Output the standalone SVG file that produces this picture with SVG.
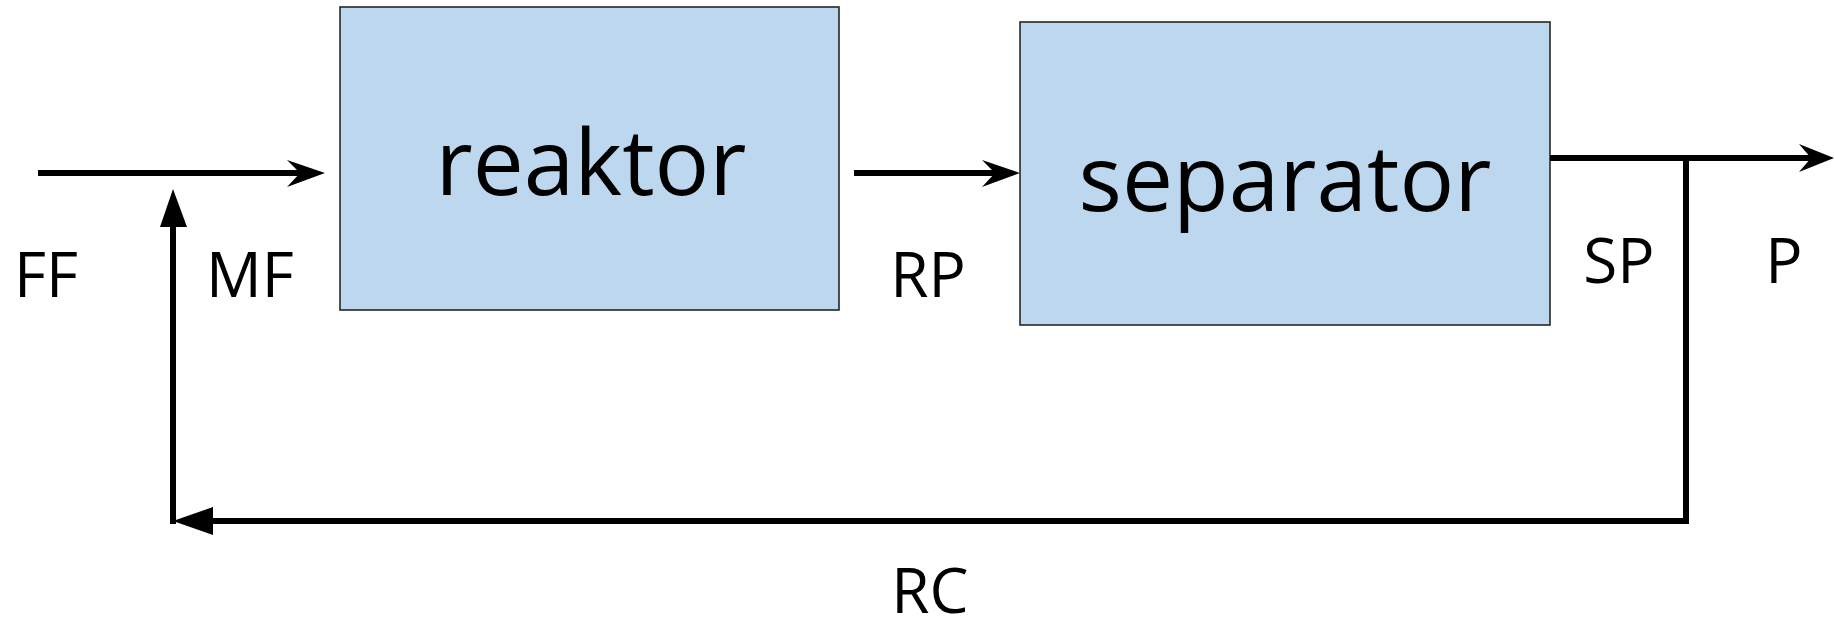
<svg xmlns="http://www.w3.org/2000/svg" width="1834" height="620" viewBox="0 0 1834 620">
<style>
.box{fill:#BDD7EE;stroke:#262626;stroke-width:1.6}
.ln{stroke:#000;stroke-width:6;fill:none}
.ah{fill:#000;stroke:none}
.lbl{font-family:"Open Sans","Noto Sans",sans-serif;font-size:62px;fill:#000;text-anchor:middle}
.big{font-family:"Open Sans","Noto Sans",sans-serif;font-size:91px;fill:#000;text-anchor:middle}
</style>
<rect width="1834" height="620" fill="#fff"/>
<g id="reaktor">
<rect class="box" x="340" y="7" width="499" height="303"/>
<text class="big" x="591" y="195">reaktor</text>
</g>
<g id="separator">
<rect class="box" x="1020" y="22" width="530" height="303"/>
<text class="big" x="1285" y="211">separator</text>
</g>
<g id="connectors">
<line class="ln" x1="38" y1="173" x2="302" y2="173"/>
<polygon class="ah" points="325,173 287,160 300,173 287,187"/>
<line class="ln" x1="854" y1="173" x2="997" y2="173"/>
<polygon class="ah" points="1020,173 982,160 995,173 982,187"/>
<line class="ln" x1="1550" y1="158" x2="1812" y2="158"/>
<polygon class="ah" points="1834,158 1799,144 1811,158 1799,172"/>
<polyline class="ln" points="1686,158 1686,521 210,521" stroke-linejoin="miter"/>
<polygon class="ah" points="173,521 213,507 213,535"/>
<line class="ln" x1="173" y1="524" x2="173" y2="225"/>
<polygon class="ah" points="173,189 160,227 187,227"/>
</g>
<g id="labels">
<text class="lbl" x="46" y="297">FF</text>
<text class="lbl" x="250" y="297">MF</text>
<text class="lbl" x="928" y="297">RP</text>
<text class="lbl" x="1619" y="283">SP</text>
<text class="lbl" x="1784" y="283">P</text>
<text class="lbl" x="930" y="613">RC</text>
</g>
</svg>
